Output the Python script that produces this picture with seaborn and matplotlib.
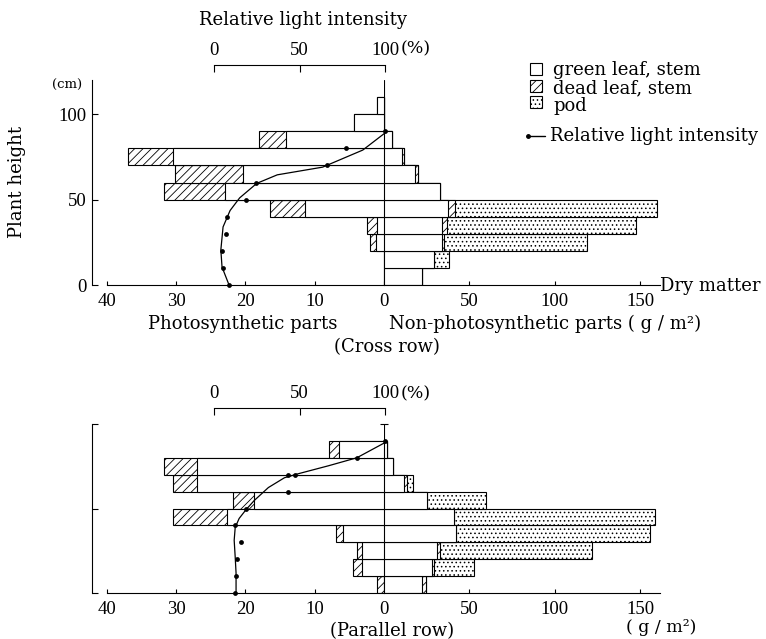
import matplotlib
matplotlib.use("Agg")
import matplotlib.pyplot as plt
from matplotlib.patches import Rectangle
from matplotlib.lines import Line2D
import numpy as np
import pandas as pd
import seaborn as sns

W, H = 766, 639

# ---- Cross row (layers of 10 cm, lower bound) ----
layers_cross = [0, 10, 20, 30, 40, 50, 60, 70, 80, 90, 100]
photo_green_cross = [0, 0, 1.1, 1.0, 11.4, 22.9, 20.3, 30.4, 14.2, 4.3, 1.0]
photo_dead_cross = [0, 0, 0.9, 1.4, 5.0, 8.9, 9.9, 6.6, 3.9, 0, 0]
nonphoto_green_cross = [22, 29, 34, 34, 37.4, 33, 18, 10.5, 4.6, 0, 0]
nonphoto_dead_cross = [0, 0, 1.0, 2.8, 4.1, 0, 1.9, 1.2, 0, 0, 0]
pod_cross = [0, 9, 84, 111, 118.5, 0, 0, 0, 0, 0, 0]
light_h_cross = [90, 80, 70, 60, 50, 40, 30, 20, 10, 0]
light_cross = [100, 77, 66, 24.5, 18.7, 7.6, 7.0, 4.7, 5.3, 8.8]
curve_h_cross = [89, 79, 69, 64.5, 59.5, 51, 43.6, 34, 20.5, 10.5, 0]
curve_cross = [100, 87, 63.5, 37, 25, 15, 9.4, 5.3, 4.0, 4.7, 8.8]

# ---- Parallel row ----
layers_par = [0, 10, 20, 30, 40, 50, 60, 70, 80]
photo_green_par = [0, 3.2, 3.2, 5.9, 22.6, 18.7, 27.0, 27.0, 6.5]
photo_dead_par = [1.0, 1.3, 0.7, 1.0, 7.8, 3.1, 3.4, 4.7, 1.4]
nonphoto_green_par = [22, 28, 31, 42, 41, 25, 12, 5.5, 2]
nonphoto_dead_par = [2.5, 1.0, 2.0, 0, 0, 0, 1.5, 0, 0]
pod_par = [0, 23.5, 89, 114, 117.5, 35, 3.5, 0, 0]
light_h_par = [90, 80, 70, 70, 60, 50, 40, 30, 20, 10, 0]
light_par = [100, 83.5, 47.6, 43.5, 43.5, 18.8, 12.4, 15.9, 13.5, 12.9, 12.4]
curve_h_par = [89, 80, 75.3, 70.6, 68.2, 62.4, 54.7, 49.4, 44.1, 38.8, 31.2, 21.2, 11.8, 0]
curve_par = [100, 83.5, 67, 49.4, 41.2, 31.8, 23.5, 18.8, 14.7, 12.4, 11.8, 12.4, 12.9, 12.9]

sns.set_theme(style="white")
plt.rcParams["font.family"] = ["Liberation Serif", "DejaVu Serif"]
plt.rcParams["text.color"] = "black"
plt.rcParams["hatch.linewidth"] = 0.6
FS = 13.5          # numbers
TFS = 13           # words
TFONT = ["DejaVu Serif"]
LW = 0.8


def box(x0, y0, x1, y1):
    return [x0 / W, 1 - y1 / H, (x1 - x0) / W, (y1 - y0) / H]


def ftext(fig, x, y, s, **kw):
    kw.setdefault("fontsize", TFS)
    kw.setdefault("family", TFONT)
    kw.setdefault("ha", "center")
    kw.setdefault("va", "center")
    kw.setdefault("color", "black")
    fig.text(x / W, 1 - y / H, s, **kw)


def bars(ax, layers, values, hatch=None):
    df = pd.DataFrame({"h": np.array(layers) + 5, "v": values})
    sns.barplot(data=df, x="v", y="h", orient="y", native_scale=True, width=1,
                color="white", saturation=1, edgecolor="black", linewidth=LW,
                hatch=hatch, errorbar=None, ax=ax)


def panel(fig, layers, pg, pdd, ng, nd, pod, lh, lv, ch, cv,
          base_y, px_cm, top_cm, light_y, show_ylabels):
    top_y = base_y - top_cm * px_cm
    axl = fig.add_axes(box(92, top_y, 384, base_y))
    axr = fig.add_axes(box(384, top_y, 660, base_y))
    axli = fig.add_axes(box(214, light_y, 385, base_y))

    pg, pdd, ng, nd, pod = map(np.array, (pg, pdd, ng, nd, pod))
    # photosynthetic parts (left)
    bars(axl, layers, pg + pdd, hatch="////")
    bars(axl, layers, pg)
    # non-photosynthetic parts (right)
    bars(axr, layers, ng + nd + pod, hatch="....")
    bars(axr, layers, ng + nd, hatch="////")
    bars(axr, layers, ng)

    for ax in (axl, axr):
        ax.set_facecolor("none")
        ax.set_xlabel("")
        ax.set_ylabel("")
        ax.set_ylim(0, top_cm)
        ax.spines["top"].set_visible(False)
        ax.spines["right"].set_visible(False)
        for s in ax.spines.values():
            s.set_linewidth(LW)
            s.set_color("black")
        ax.tick_params(axis="x", bottom=True, direction="in", length=3,
                       width=LW, labelsize=FS, pad=6, colors="black")

    axl.set_xlim((384 - 92) / 6.93, 0)
    axl.spines["bottom"].set_bounds(0, 40)
    axl.set_xticks([40, 30, 20, 10, 0])
    axl.set_xticklabels(["40", "30", "20", "10", "0"])
    axl.set_yticks([0, 50, 100])
    axl.tick_params(axis="y", left=True, direction="in", length=4, width=LW,
                    labelsize=FS, pad=4, colors="black",
                    labelleft=show_ylabels)

    axr.set_xlim(0, (660 - 384) / 1.707)
    axr.spines["left"].set_visible(False)
    axr.set_xticks([50, 100, 150])
    axr.set_xticklabels(["50", "100", "150"])
    axr.set_yticks([])
    axr.axvline(0, color="black", lw=LW, zorder=0.5)

    # relative light intensity
    axli.set_facecolor("none")
    axli.set_xlim(0, 100)
    axli.set_ylim(0, (base_y - light_y) / px_cm)
    for k in ("left", "right", "bottom"):
        axli.spines[k].set_visible(False)
    axli.spines["top"].set_linewidth(LW)
    axli.spines["top"].set_color("black")
    axli.xaxis.tick_top()
    axli.set_xticks([0, 50, 100])
    axli.set_xticklabels(["0", "50", "100"])
    axli.set_yticks([])
    axli.tick_params(axis="x", top=True, direction="in", length=5, width=LW,
                     labelsize=FS, pad=4, colors="black")
    sns.lineplot(x=cv, y=ch, sort=False, estimator=None, color="black",
                 lw=0.9, clip_on=False, ax=axli)
    sns.scatterplot(x=lv, y=lh, color="black", s=12, linewidth=0,
                    clip_on=False, zorder=5, ax=axli)
    axli.set_xlabel("")
    axli.set_ylabel("")
    return axl, axr, axli


fig = plt.figure(figsize=(W / 100, H / 100), dpi=100)

panel(fig, layers_cross, photo_green_cross, photo_dead_cross,
      nonphoto_green_cross, nonphoto_dead_cross, pod_cross,
      light_h_cross, light_cross, curve_h_cross, curve_cross,
      base_y=285, px_cm=1.708, top_cm=120, light_y=65, show_ylabels=True)

axl2, axr2, _ = panel(fig, layers_par, photo_green_par, photo_dead_par,
                      nonphoto_green_par, nonphoto_dead_par, pod_par,
                      light_h_par, light_par, curve_h_par, curve_par,
                      base_y=593, px_cm=1.69, top_cm=100, light_y=408,
                      show_ylabels=False)
axr2.plot([0], [100], marker="_", ms=6, mew=LW, color="black", clip_on=False)

# texts
ftext(fig, 303, 20, "Relative light intensity")
ftext(fig, 401, 49, "(%)", ha="left", fontsize=12.5)
ftext(fig, 401, 394, "(%)", ha="left", fontsize=12.5)
ftext(fig, 17, 182, "Plant height", rotation=90)
ftext(fig, 67, 85, "(cm)", fontsize=9.5)
ftext(fig, 660, 286, "Dry matter", ha="left")
ftext(fig, 243, 324, "Photosynthetic parts")
ftext(fig, 389, 324, "Non-photosynthetic parts ( g / m²)", ha="left")
ftext(fig, 387, 347, "(Cross row)")
ftext(fig, 392, 631, "(Parallel row)")
ftext(fig, 661, 628, "( g / m²)", fontsize=12.5)

# legend
legend_items = [("green leaf, stem", None, 69, 70),
                ("dead leaf, stem", "////", 86, 88),
                ("pod", "....", 102, 106)]
for label, hatch, sy, ty in legend_items:
    fig.add_artist(Rectangle((530 / W, 1 - (sy + 6) / H), 12 / W, 12 / H,
                             transform=fig.transFigure, facecolor="white",
                             edgecolor="black", lw=LW, hatch=hatch))
    ftext(fig, 553, ty, label, ha="left")
fig.add_artist(Line2D([527 / W, 545 / W], [1 - 136 / H, 1 - 136 / H],
                      transform=fig.transFigure, color="black", lw=1))
fig.add_artist(Line2D([528 / W], [1 - 136 / H], transform=fig.transFigure,
                      marker="o", ms=2.5, color="black"))
ftext(fig, 550, 136, "Relative light intensity", ha="left")

fig.savefig("out.png", dpi=100)
